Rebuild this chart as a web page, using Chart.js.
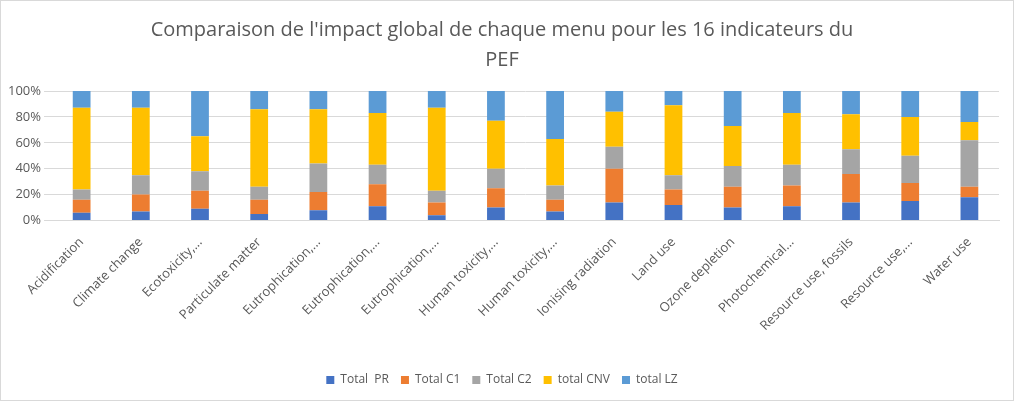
<!DOCTYPE html><html><head><meta charset="utf-8">
<script src="https://cdn.jsdelivr.net/npm/chart.js@4"></script>
<style>html,body{margin:0;background:#fff}#w{width:1012px;height:399px;border:1px solid #d9d9d9;position:relative}</style></head>
<body><div id="w"><canvas id="c"></canvas></div>
<script>
const categories=["Acidification","Climate change","Ecotoxicity,...","Particulate matter","Eutrophication,...","Eutrophication,...","Eutrophication,...","Human toxicity,...","Human toxicity,...","Ionising radiation","Land use","Ozone depletion","Photochemical...","Resource use, fossils","Resource use,...","Water use"];
const totalPR=[6,7,9,5,8,11,4,10,7,14,12,10,11,14,15,18];
const totalC1=[10,13,14,11,14,17,10,15,9,26,12,16,16,22,14,8];
const totalC2=[8,15,15,10,22,15,9,15,11,17,11,16,16,19,21,36];
const totalCNV=[63,52,27,60,42,40,64,37,36,27,54,31,40,27,30,14];
const totalLZ=[13,13,35,14,14,17,13,23,37,16,11,27,17,18,20,24];
const names=["Total  PR","Total C1","Total C2","total CNV","total LZ"];
const colors=["#4472c4","#ed7d31","#a5a5a5","#ffc000","#5b9bd5"];
const series=[totalPR,totalC1,totalC2,totalCNV,totalLZ];
new Chart(document.getElementById('c'),{type:'bar',
data:{labels:categories,datasets:series.map((d,i)=>({label:names[i],data:d,backgroundColor:colors[i],barPercentage:0.3,categoryPercentage:1}))},
options:{responsive:true,maintainAspectRatio:false,animation:false,
layout:{padding:{left:4,right:14,top:6,bottom:4}},
plugins:{title:{display:true,text:["Comparaison de l'impact global de chaque menu pour les 16 indicateurs du","PEF"],color:'#595959',font:{size:20,family:'Open Sans',weight:'normal',lineHeight:1.5},padding:{top:8,bottom:16}},
legend:{position:'bottom',labels:{boxWidth:8,boxHeight:8,color:'#595959',font:{size:12,family:'Open Sans'},padding:12}},tooltip:{enabled:false}},
scales:{x:{stacked:true,grid:{display:false},border:{color:'#d9d9d9'},afterFit:a=>{a.height+=22},ticks:{padding:6,color:'#595959',font:{size:13,family:'Open Sans'},maxRotation:45,minRotation:45,autoSkip:false}},
y:{stacked:true,min:0,max:100,ticks:{stepSize:20,callback:v=>v+'%',color:'#595959',font:{size:13,family:'Open Sans'}},grid:{color:'#d9d9d9'},border:{display:false}}}}});
</script></body></html>
